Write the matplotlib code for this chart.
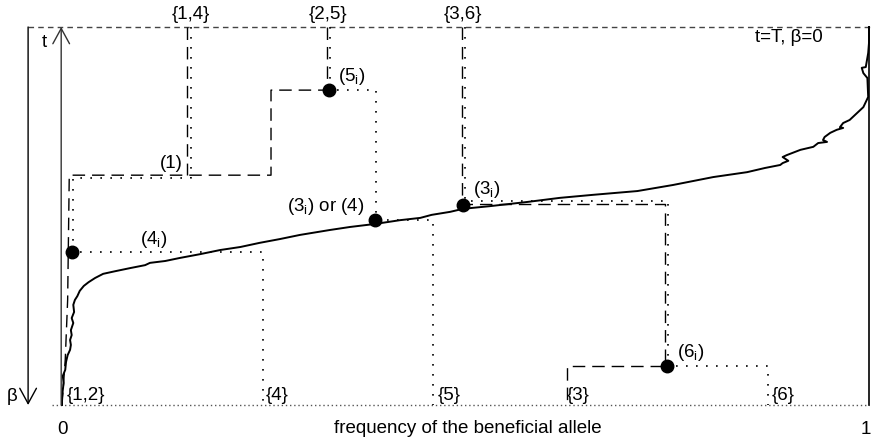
import matplotlib

matplotlib.use("Agg")
import matplotlib.pyplot as plt

plt.rcParams["font.family"] = ["Liberation Sans", "DejaVu Sans"]
plt.rcParams["mathtext.fontset"] = "custom"
plt.rcParams["mathtext.rm"] = "Liberation Sans"

# allele-frequency trajectory (x = frequency, t = time, 0 bottom .. 1 top)
freq_curve = [0.000, 0.000, 0.001, 0.002, 0.001, 0.004, 0.005, 0.007, 0.010, 0.011,
              0.010, 0.012, 0.011, 0.014, 0.012, 0.015, 0.014, 0.016, 0.019, 0.022,
              0.027, 0.033, 0.041, 0.051, 0.066, 0.084, 0.103, 0.109, 0.128, 0.146,
              0.171, 0.196, 0.221, 0.245, 0.270, 0.295, 0.332, 0.357, 0.388, 0.419,
              0.444, 0.458, 0.481, 0.497, 0.530, 0.576, 0.617, 0.658, 0.713, 0.757,
              0.807, 0.849, 0.871, 0.890, 0.893, 0.900, 0.893, 0.898, 0.915, 0.931,
              0.937, 0.948, 0.943, 0.945, 0.952, 0.960, 0.968, 0.964, 0.968, 0.976,
              0.985, 0.993, 0.999, 0.998, 0.993, 0.991, 0.996, 0.999, 1.000, 1.000]
time_curve = [0.000, 0.019, 0.040, 0.058, 0.077, 0.093, 0.114, 0.132, 0.146, 0.159,
              0.172, 0.185, 0.198, 0.217, 0.230, 0.246, 0.265, 0.278, 0.288, 0.302,
              0.315, 0.325, 0.336, 0.347, 0.354, 0.362, 0.370, 0.376, 0.381, 0.389,
              0.399, 0.410, 0.418, 0.429, 0.439, 0.450, 0.463, 0.471, 0.479, 0.489,
              0.495, 0.503, 0.511, 0.519, 0.526, 0.537, 0.548, 0.556, 0.566, 0.582,
              0.603, 0.616, 0.627, 0.635, 0.640, 0.646, 0.656, 0.661, 0.675, 0.683,
              0.693, 0.696, 0.701, 0.709, 0.720, 0.728, 0.733, 0.735, 0.746, 0.754,
              0.772, 0.788, 0.815, 0.865, 0.878, 0.892, 0.894, 0.931, 0.958, 1.000]

# lineages of the first sample (dashed)
dashed_x = [[0.000, 0.004, 0.007, 0.009, 0.259, 0.259, 0.331],
            [0.155, 0.155],
            [0.328, 0.328],
            [0.496, 0.496, 0.747, 0.747, 0.626, 0.626]]
dashed_t = [[0.000, 0.119, 0.278, 0.608, 0.608, 0.833, 0.833],
            [1.000, 0.608],
            [1.000, 0.833],
            [1.000, 0.532, 0.532, 0.103, 0.103, 0.000]]

# lineages of the second sample (dotted)
dotted_x = [[0.160, 0.160, 0.014, 0.014, 0.249, 0.249],
            [0.332, 0.332, 0.389, 0.389, 0.460, 0.460],
            [0.499, 0.499, 0.751, 0.751, 0.875, 0.875]]
dotted_t = [[1.000, 0.601, 0.601, 0.405, 0.405, 0.000],
            [1.000, 0.833, 0.833, 0.489, 0.489, 0.000],
            [1.000, 0.540, 0.540, 0.103, 0.103, 0.000]]

# events
event_x = [0.012, 0.388, 0.331, 0.497, 0.750]
event_t = [0.405, 0.489, 0.833, 0.529, 0.103]

top_labels = ["{1,4}", "{2,5}", "{3,6}"]
top_label_x = [0.160, 0.330, 0.497]
bottom_labels = ["{1,2}", "{4}", "{5}", "{3}", "{6}"]
bottom_label_x = [0.006, 0.252, 0.465, 0.626, 0.880]
sub = r"$_\mathregular{i}$"
event_labels = ["(4" + sub + ")", "(3" + sub + ") or (4)", "(5" + sub + ")",
                "(3" + sub + ")", "(6" + sub + ")", "(1)"]
event_label_x = [0.097, 0.375, 0.342, 0.509, 0.762, 0.135]
event_label_t = [0.437, 0.524, 0.870, 0.569, 0.140, 0.640]
event_label_ha = ["left", "right", "left", "left", "left", "center"]

fs = 13.5
fig = plt.figure(figsize=(8.73, 4.40), dpi=100)
ax = fig.add_axes([0, 0, 1, 1])
ax.set_xlim(-62 / 807, 1 + 4 / 807)
ax.set_ylim(-35 / 378, 405 / 378)
ax.axis("off")

# frame
ax.plot([-0.042, 1.005], [1, 1], color="#444444", lw=1, dashes=(4, 3))
ax.plot([-0.012, 1.0], [0, 0], color="#555555", lw=1, dashes=(1, 2))
ax.plot([1.0, 1.0], [0, 1], color="black", lw=1.2)
arrow = "->,head_length=1.1,head_width=0.6"
ax.annotate("", xy=(-0.042, 0.0), xytext=(-0.042, 1.0),
            arrowprops=dict(arrowstyle=arrow, lw=1, color="black",
                            shrinkA=0, shrinkB=0, mutation_scale=10))
ax.annotate("", xy=(-0.001, 1.0), xytext=(-0.001, 0.0),
            arrowprops=dict(arrowstyle=arrow, lw=1, color="#333333",
                            shrinkA=0, shrinkB=0, mutation_scale=10))

ax.plot(freq_curve, time_curve, color="black", lw=1.4)

for xs, ts in zip(dashed_x, dashed_t):
    ax.plot(xs, ts, color="black", lw=1, dashes=(9, 5))
for xs, ts in zip(dotted_x, dotted_t):
    ax.plot(xs, ts, color="black", lw=1.2, dashes=(1, 5))

ax.plot(event_x, event_t, "o", color="black", ms=9, zorder=5)

for lab, x in zip(top_labels, top_label_x):
    ax.text(x, 1.034, lab, ha="center", va="center", fontsize=fs)
for lab, x in zip(bottom_labels, bottom_label_x):
    ax.text(x, 0.026, lab, ha="left", va="center", fontsize=fs)
for lab, x, t, ha in zip(event_labels, event_label_x, event_label_t, event_label_ha):
    ax.text(x, t, lab, ha=ha, va="center", fontsize=fs)

ax.text(-0.022, 0.960, "t", ha="center", va="center", fontsize=fs)
ax.text(0.859, 0.971, "t=T, β=0", ha="left", va="center", fontsize=fs)
ax.text(-0.062, 0.022, "β", ha="center", va="center", fontsize=fs)
ax.text(0.0, -0.066, "0", ha="center", va="center", fontsize=fs)
ax.text(0.996, -0.066, "1", ha="center", va="center", fontsize=fs)
ax.text(0.503, -0.061, "frequency of the beneficial allele", ha="center",
        va="center", fontsize=fs)

fig.savefig("out.png", dpi=100)
plt.close(fig)
